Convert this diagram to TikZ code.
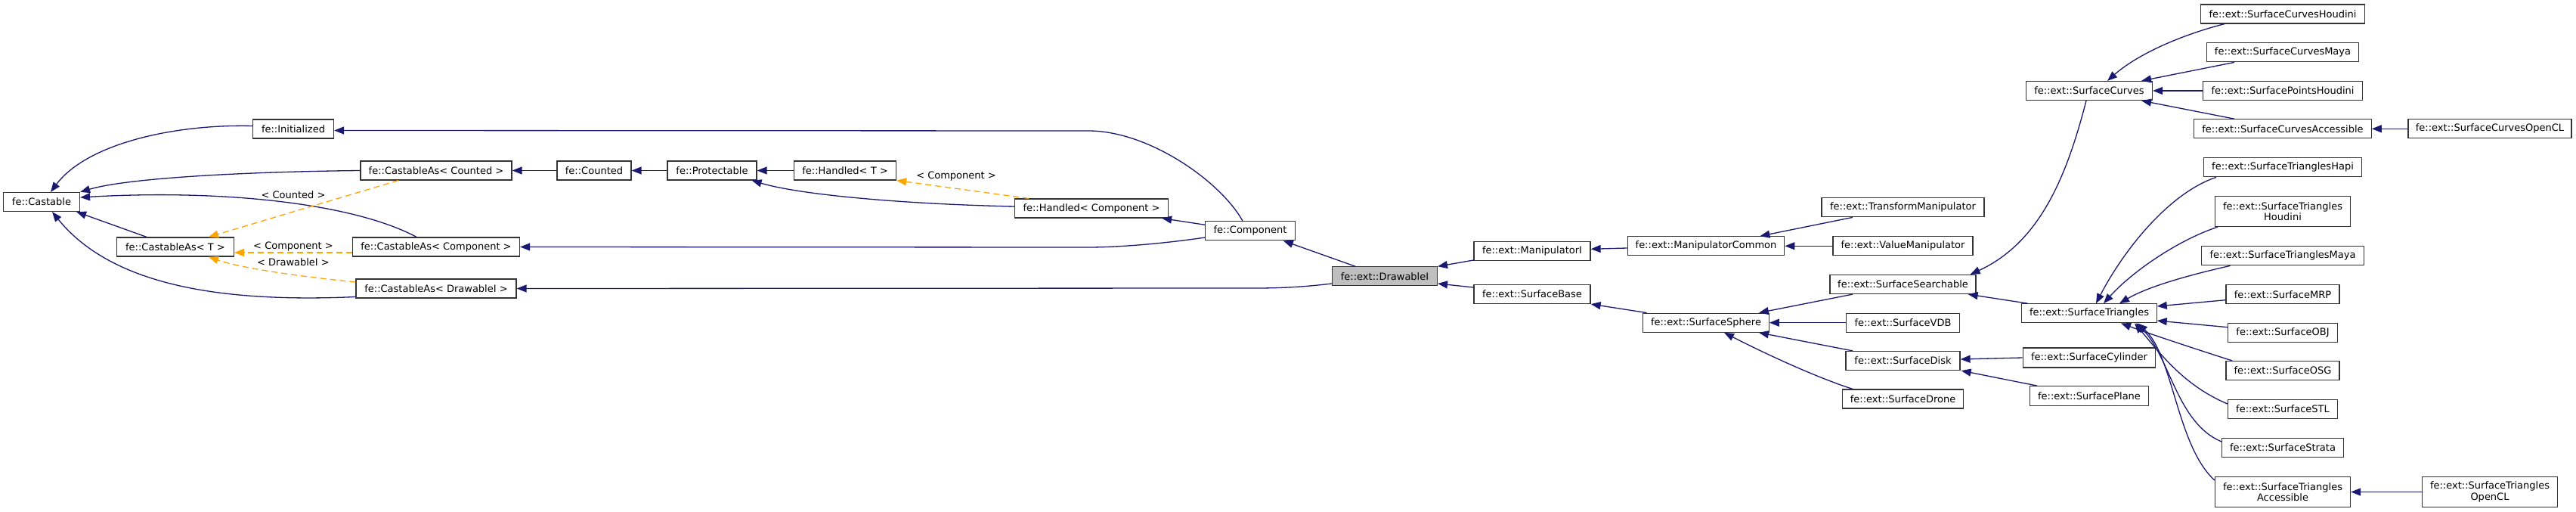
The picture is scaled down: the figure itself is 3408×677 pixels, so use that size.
\documentclass[tikz,border=0pt]{standalone}
\usepackage{fontspec}
\setmainfont{DejaVu Sans}
\usetikzlibrary{arrows.meta,calc}
\definecolor{mblue}{HTML}{191970}
\definecolor{dorange}{HTML}{FFA500}
\definecolor{nodegray}{HTML}{BFBFBF}
\definecolor{nodeborder}{HTML}{333333}
\begin{document}
\begin{tikzpicture}[x=1pt,y=-1pt,
  cls/.style={draw=nodeborder, fill=white, line width=1.2pt, inner sep=0pt, align=center,
    font=\fontsize{13}{14.3}\selectfont, minimum height=25},
  inh/.style={draw=mblue, line width=1.3pt, -{Triangle[length=13pt,width=10pt]}},
  tmpl/.style={draw=dorange, line width=1.3pt, dash pattern=on 8pt off 5pt, -{Triangle[length=13pt,width=10pt,fill=dorange]}},
  lbl/.style={font=\fontsize{13}{14.3}\selectfont, inner sep=0pt}]
\useasboundingbox (0,0) rectangle (3408,677);
% nodes
\node[cls, minimum width=101] (cast) at (55,267) {fe::Castable};
\node[cls, minimum width=107] (init) at (388,170.5) {fe::Initialized};
\node[cls, minimum width=200] (cCounted) at (577,225.5) {fe::CastableAs< Counted >};
\node[cls, minimum width=154.5] (cT) at (232,326.5) {fe::CastableAs< T >};
\node[cls, minimum width=221] (cComp) at (577,326.5) {fe::CastableAs< Component >};
\node[cls, minimum width=212] (cDraw) at (577,381.5) {fe::CastableAs< DrawableI >};
\node[cls, minimum width=98] (counted) at (786,225.5) {fe::Counted};
\node[cls, minimum width=118] (prot) at (942,225.5) {fe::Protectable};
\node[cls, minimum width=135] (handT) at (1118,225.5) {fe::Handled< T >};
\node[cls, minimum width=203] (handC) at (1444,275.5) {fe::Handled< Component >};
\node[cls, minimum width=118.4] (comp) at (1654,305.3) {fe::Component};
\node[cls, minimum width=138.8, fill=nodegray] (draw) at (1832,365.3) {fe::ext::DrawableI};
\node[cls, minimum width=154] (manI) at (2027,332) {fe::ext::ManipulatorI};
\node[cls, minimum width=154] (sBase) at (2027,389) {fe::ext::SurfaceBase};
\node[cls, minimum width=207.6] (manC) at (2257,325.3) {fe::ext::ManipulatorCommon};
\node[cls, minimum width=215] (transM) at (2517.5,274.3) {fe::ext::TransformManipulator};
\node[cls, minimum width=185] (valM) at (2517.5,325.3) {fe::ext::ValueManipulator};
\node[cls, minimum width=193] (sSearch) at (2517.5,376) {fe::ext::SurfaceSearchable};
\node[cls, minimum width=166.6] (sSphere) at (2257,426.7) {fe::ext::SurfaceSphere};
\node[cls, minimum width=149.5] (sVDB) at (2517.5,426.7) {fe::ext::SurfaceVDB};
\node[cls, minimum width=151] (sDisk) at (2517.5,477) {fe::ext::SurfaceDisk};
\node[cls, minimum width=160.5] (sDrone) at (2517.5,527.5) {fe::ext::SurfaceDrone};
\node[cls, minimum width=167] (sCurves) at (2764,120) {fe::ext::SurfaceCurves};
\node[cls, minimum width=216.5] (sCurvH) at (3020,18.5) {fe::ext::SurfaceCurvesHoudini};
\node[cls, minimum width=201] (sCurvM) at (3020,69.3) {fe::ext::SurfaceCurvesMaya};
\node[cls, minimum width=211] (sPointH) at (3020,120) {fe::ext::SurfacePointsHoudini};
\node[cls, minimum width=234.5] (sCurvA) at (3020,170.3) {fe::ext::SurfaceCurvesAccessible};
\node[cls, minimum width=216] (sCurvO) at (3294,170.3) {fe::ext::SurfaceCurvesOpenCL};
\node[cls, minimum width=209.6] (sTriHapi) at (3020,221.3) {fe::ext::SurfaceTrianglesHapi};
\node[cls, minimum width=179, minimum height=40] (sTriHou) at (3020,279.5) {fe::ext::SurfaceTriangles\\Houdini};
\node[cls, minimum width=215] (sTriMaya) at (3020,338.3) {fe::ext::SurfaceTrianglesMaya};
\node[cls, minimum width=150] (sMRP) at (3020,389.3) {fe::ext::SurfaceMRP};
\node[cls, minimum width=178.3] (sTri) at (2764,414.3) {fe::ext::SurfaceTriangles};
\node[cls, minimum width=145] (sOBJ) at (3020,440) {fe::ext::SurfaceOBJ};
\node[cls, minimum width=150] (sOSG) at (3020,490) {fe::ext::SurfaceOSG};
\node[cls, minimum width=145] (sSTL) at (3020,541) {fe::ext::SurfaceSTL};
\node[cls, minimum width=160.4] (sStrata) at (3020,591.7) {fe::ext::SurfaceStrata};
\node[cls, minimum width=179, minimum height=40] (sTriAcc) at (3020,650.5) {fe::ext::SurfaceTriangles\\Accessible};
\node[cls, minimum width=178.4, minimum height=40] (sTriOCL) at (3294,650.5) {fe::ext::SurfaceTriangles\\OpenCL};
\node[cls, minimum width=175.5, minimum height=26] (sCyl) at (2764,473) {fe::ext::SurfaceCylinder};
\node[cls, minimum width=157.7, minimum height=25.6] (sPlane) at (2764,523.5) {fe::ext::SurfacePlane};
% edges to fe::Castable
\draw[inh] ([yshift=4]init.west) .. controls (230,164) and (115,190) .. ([xshift=12]cast.north);
\draw[inh] (cCounted.west) .. controls (330,227) and (170,235) .. (cast.north east);
\draw[inh] ([xshift=-26]cComp.north) .. controls (470,270) and (300,250) .. ([yshift=6]cast.east);
\draw[inh] ([xshift=-38]cT.north) -- ([xshift=-5]cast.south east);
\draw[inh] ([yshift=-11]cDraw.west) .. controls (300,400) and (150,380) .. ([xshift=14]cast.south);
% template instantiations
\draw[tmpl] ([xshift=-50]cCounted.south) -- ([xshift=-34]cT.north east);
\draw[tmpl] ([yshift=-7.5]cComp.west) -- ([yshift=-7.5]cT.east);
\draw[tmpl] ([yshift=8.5]cDraw.west) .. controls (400,366) and (320,355) .. ([xshift=-34]cT.south east);
\node[lbl] (lCounted) at (388,258) {< Counted >};
\node[lbl] (lComp) at (388,326.5) {< Component >};
\node[lbl] (lDraw) at (388,347) {< DrawableI >};
% counted chain
\draw[inh] (counted) -- (cCounted);
\draw[inh] (prot) -- (counted);
\draw[inh] (handT) -- (prot);
\draw[inh] ([yshift=2.5]handC.west) .. controls (1200,270) and (1060,258) .. ([xshift=-7]prot.south east);
\draw[tmpl] ([xshift=-83]handC.north) -- (handT.south east);
\node[lbl] (lComp2) at (1265,233) {< Component >};
% component
\draw[inh] ([yshift=8]comp.west) -- ([xshift=-9]handC.south east);
\draw[inh] ([xshift=-10]comp.north) .. controls (1615,240) and (1520,173) .. (1440,173) -- ([yshift=-2]init.east);
\draw[inh] ([yshift=-8.7]comp.west) .. controls (1540,322) and (1480,327) .. (1440,327) -- (cComp.east);
% drawable
\draw[inh] ([xshift=-39]draw.north) -- ([xshift=-16]comp.south east);
\draw[inh] ([yshift=-9.7]draw.west) .. controls (1720,380) and (1690,381) .. (1660,381) -- (cDraw.east);
\draw[inh] ([yshift=-12]manI.west) -- ([yshift=13]draw.east);
\draw[inh] ([yshift=9]sBase.west) -- ([yshift=-9.7]draw.east);
% manipulators
\draw[inh] ([yshift=-2.7]manC.west) -- ([yshift=2.7]manI.east);
\draw[inh] ([xshift=-66.5]transM.south) -- ([xshift=-33]manC.north east);
\draw[inh] (valM) -- (manC);
% surfaces
\draw[inh] ([xshift=-78.4]sSphere.north) -- (sBase.south east);
\draw[inh] ([xshift=-66.5]sSearch.south) -- ([xshift=-14]sSphere.north east);
\draw[inh] (sVDB) -- (sSphere);
\draw[inh] ([xshift=-66.5]sDisk.north) -- ([xshift=-14]sSphere.south east);
\draw[inh] ([xshift=-66.5]sDrone.north) .. controls (2400,498) and (2330,465) .. ([xshift=24]sSphere.south);
\draw[inh] ([xshift=-4]sCurves.south) .. controls (2735,230) and (2700,320) .. ([xshift=-8]sSearch.north east);
\draw[inh] ([xshift=-81.5]sTri.north) -- ([xshift=-11]sSearch.south east);
% curves
\draw[inh] ([xshift=-77]sCurvH.south) .. controls (2890,45) and (2830,70) .. ([xshift=24]sCurves.north);
\draw[inh] ([xshift=-64]sCurvM.south) -- ([xshift=-15]sCurves.north east);
\draw[inh] (sPointH) -- (sCurves);
\draw[inh] ([xshift=-64]sCurvA.north) -- ([xshift=-15]sCurves.south east);
\draw[inh] (sCurvO) -- (sCurvA);
% triangles
\draw[inh] ([xshift=-88]sTriHapi.south) .. controls (2870,255) and (2810,330) .. ([xshift=9]sTri.north);
\draw[inh] ([xshift=-86]sTriHou.south) .. controls (2880,318) and (2820,360) .. ([xshift=19]sTri.north);
\draw[inh] ([xshift=-69.5]sTriMaya.south) .. controls (2890,365) and (2840,380) .. ([xshift=40]sTri.north);
\draw[inh] ([yshift=-7.4]sMRP.west) -- ([yshift=9.3]sTri.east);
\draw[inh] ([yshift=7.3]sOBJ.west) -- ([yshift=-9.7]sTri.east);
\draw[inh] ([xshift=-67]sOSG.north) .. controls (2900,460) and (2840,440) .. ([xshift=42]sTri.south);
\draw[inh] ([yshift=7]sSTL.west) .. controls (2890,510) and (2860,470) .. ([xshift=60]sTri.south);
\draw[inh] ([yshift=7.7]sStrata.west) .. controls (2880,560) and (2870,470) .. ([xshift=62]sTri.south);
\draw[inh] ([yshift=15.5]sTriAcc.west) .. controls (2880,590) and (2875,470) .. ([xshift=64]sTri.south);
\draw[inh] (sTriOCL) -- (sTriAcc);
% disk
\draw[inh] (sCyl.west) -- ([yshift=2]sDisk.east);
\draw[inh] ([xshift=-69]sPlane.north) -- ([xshift=1]sDisk.south east);
\end{tikzpicture}
\end{document}
